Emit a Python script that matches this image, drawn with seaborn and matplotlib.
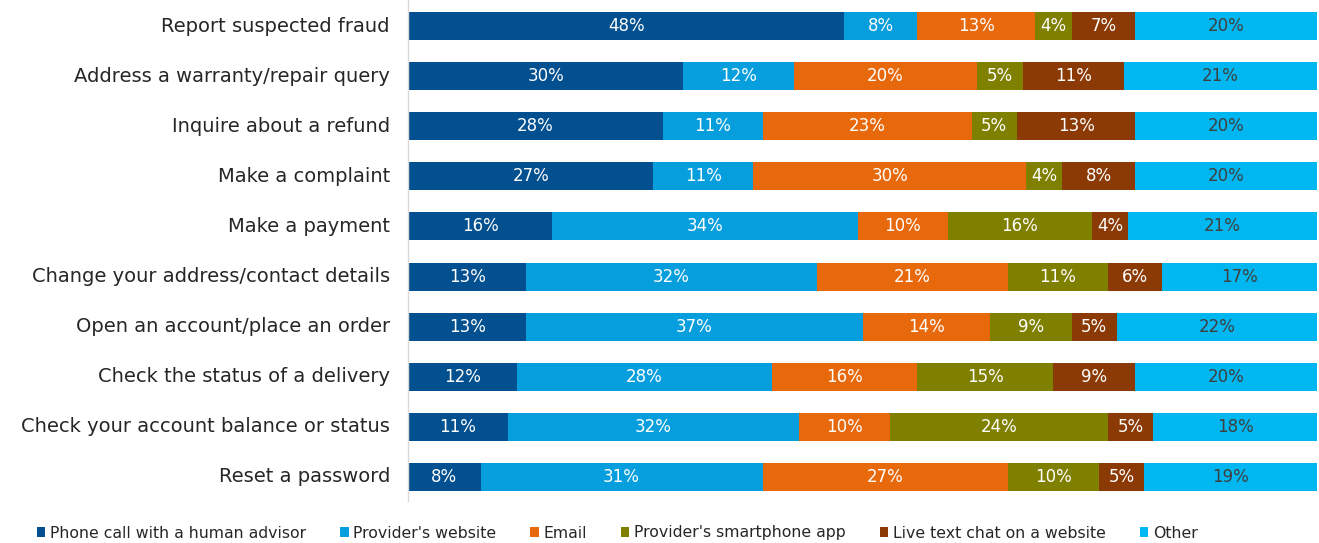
import numpy as np
import pandas as pd
import matplotlib
matplotlib.use("Agg")
import matplotlib.pyplot as plt
import seaborn as sns
from matplotlib.patches import Patch

tasks = [
    "Report suspected fraud",
    "Address a warranty/repair query",
    "Inquire about a refund",
    "Make a complaint",
    "Make a payment",
    "Change your address/contact details",
    "Open an account/place an order",
    "Check the status of a delivery",
    "Check your account balance or status",
    "Reset a password",
]
channels = [
    "Phone call with a human advisor",
    "Provider's website",
    "Email",
    "Provider's smartphone app",
    "Live text chat on a website",
    "Other",
]
phone   = [48, 30, 28, 27, 16, 13, 13, 12, 11, 8]
website = [8, 12, 11, 11, 34, 32, 37, 28, 32, 31]
email   = [13, 20, 23, 30, 10, 21, 14, 16, 10, 27]
app     = [4, 5, 5, 4, 16, 11, 9, 15, 24, 10]
chat    = [7, 11, 13, 8, 4, 6, 5, 9, 5, 5]
other   = [20, 21, 20, 20, 21, 17, 22, 20, 18, 19]

colors = ["#02508F", "#069EDC", "#E8690B", "#7F7F00", "#8B3A05", "#00B7F1"]
label_colors = ["white", "white", "white", "white", "white", "#3F3F3F"]

sns.set_theme(style="white")
plt.rcParams["font.family"] = ["DejaVu Sans"]

values = np.array([phone, website, email, app, chat, other], dtype=float)
# each row fills the full bar: share of the row total
shares = values / values.sum(axis=0) * 100
cum = np.cumsum(shares, axis=0)

fig = plt.figure(figsize=(13.19, 5.43), dpi=100)
ax = fig.add_axes([408 / 1319, 42 / 543, 909 / 1319, 501 / 543])

# stacked bars: draw cumulative totals from the widest down so each segment shows
for i in range(len(channels) - 1, -1, -1):
    df = pd.DataFrame({"task": tasks, "end": cum[i]})
    sns.barplot(data=df, x="end", y="task", orient="h", color=colors[i],
                saturation=1, width=0.56, ax=ax, linewidth=0)

for i in range(len(channels)):
    for j in range(len(tasks)):
        mid = cum[i, j] - shares[i, j] / 2
        ax.text(mid, j, f"{int(values[i, j])}%", ha="center", va="center",
                color=label_colors[i], fontsize=12)

ax.set_xlim(0, 100)
ax.set_ylim(9.48, -0.52)
ax.set_xlabel("")
ax.set_ylabel("")
ax.set_xticks([])
ax.tick_params(axis="y", length=0, pad=13, labelsize=14, labelcolor="#262626")
for lbl in ax.get_yticklabels():
    lbl.set_va("center")
for s in ["top", "right", "bottom"]:
    ax.spines[s].set_visible(False)
ax.spines["left"].set_color("#D9D9D9")
ax.spines["left"].set_linewidth(1)

handles = [Patch(facecolor=c, edgecolor="none") for c in colors]
fig.legend(handles, channels, loc="center", bbox_to_anchor=(0.468, 10 / 543),
           ncol=6, frameon=False, fontsize=11.3, handlelength=0.55, handleheight=0.55,
           handletextpad=0.3, columnspacing=2.15, labelcolor="#262626")

fig.savefig("out.png", dpi=100)
